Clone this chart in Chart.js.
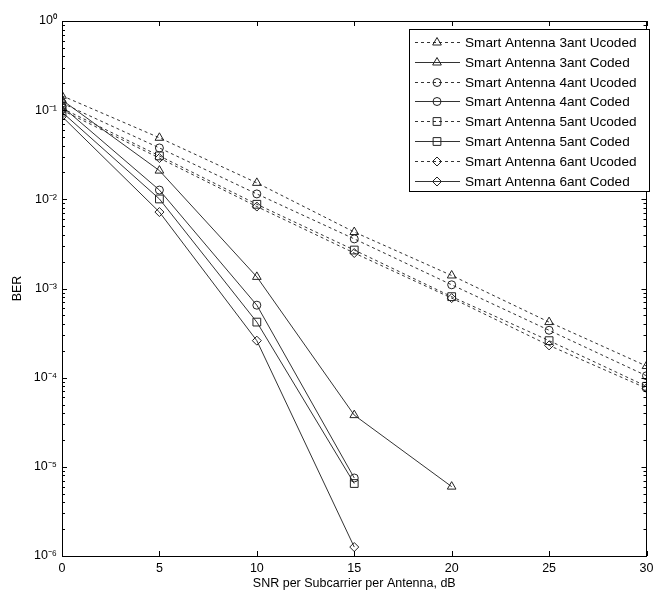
<!DOCTYPE html>
<html>
<head>
<meta charset="utf-8">
<script src="https://cdn.jsdelivr.net/npm/chart.js@4"></script>
<style>
  html, body { margin: 0; padding: 0; background: #fff; }
  #wrap { width: 653px; height: 592px; }
</style>
</head>
<body>
<div id="wrap"><canvas id="berChart"></canvas></div>
<script>
// SNR axis (dB)
const snr = [0, 5, 10, 15, 20, 25, 30];

// uncoded BER
const ber3Uncoded = [0.145, 0.049, 0.0153, 0.0043, 0.0014, 0.00042, 0.000135];
const ber4Uncoded = [0.12, 0.0377, 0.0115, 0.0036, 0.0011, 0.00034, 0.000105];
const ber5Uncoded = [0.105, 0.0307, 0.0088, 0.0027, 0.00081, 0.00026, 0.00008];
const ber6Uncoded = [0.1, 0.029, 0.0083, 0.0025, 0.00078, 0.00023, 0.000076];

// coded BER (null = not simulated)
const ber3Coded = [0.13, 0.021, 0.00135, 0.000038, 0.000006, null, null];
const ber4Coded = [0.11, 0.0127, 0.00065, 0.0000075, null, null, null];
const ber5Coded = [0.095, 0.0101, 0.00042, 0.0000065, null, null, null];
const ber6Coded = [0.085, 0.0072, 0.00026, 0.00000126, null, null, null];

const yTicks = [1, 0.1, 0.01, 0.001, 0.0001, 0.00001, 0.000001];
const yTickLabels = ['10\u2070', '10\u207B\u00B9', '10\u207B\u00B2', '10\u207B\u00B3', '10\u207B\u2074', '10\u207B\u2075', '10\u207B\u2076'];

const FONT = 'Liberation Sans, Arial, sans-serif';
const INK = '#222';

function pts(vals) {
  const out = [];
  vals.forEach((v, i) => { if (v !== null) out.push({ x: snr[i], y: v }); });
  return out;
}

function series(label, vals, style, radius, dashed) {
  return {
    label: label,
    data: pts(vals),
    borderColor: '#333',
    borderWidth: 1,
    borderDash: dashed ? [3, 3] : [],
    pointStyle: style,
    pointRadius: radius,
    pointBorderColor: INK,
    pointBackgroundColor: 'rgba(0,0,0,0)',
    pointBorderWidth: 1,
    backgroundColor: 'rgba(0,0,0,0)',
    fill: false,
    tension: 0
  };
}

const datasets = [
  series('Smart Antenna 3ant Ucoded', ber3Uncoded, 'triangle', 5, true),
  series('Smart Antenna 3ant Coded', ber3Coded, 'triangle', 5, false),
  series('Smart Antenna 4ant Ucoded', ber4Uncoded, 'circle', 4, true),
  series('Smart Antenna 4ant Coded', ber4Coded, 'circle', 4, false),
  series('Smart Antenna 5ant Ucoded', ber5Uncoded, 'rect', 5.5, true),
  series('Smart Antenna 5ant Coded', ber5Coded, 'rect', 5.5, false),
  series('Smart Antenna 6ant Ucoded', ber6Uncoded, 'rectRot', 4.5, true),
  series('Smart Antenna 6ant Coded', ber6Coded, 'rectRot', 4.5, false)
];

// box, inward ticks and the MATLAB style legend
const matlabFrame = {
  id: 'matlabFrame',
  afterDatasetsDraw(chart) {
    const ctx = chart.ctx;
    const a = chart.chartArea;
    const xs = chart.scales.x, ys = chart.scales.y;
    ctx.save();
    ctx.strokeStyle = '#000';
    ctx.lineWidth = 1;
    ctx.setLineDash([]);
    ctx.strokeRect(Math.round(a.left) + 0.5, Math.round(a.top) + 0.5,
      Math.round(a.right - a.left) - 1, Math.round(a.bottom - a.top));

    ctx.beginPath();
    snr.forEach(v => {
      const px = Math.round(xs.getPixelForValue(v)) + 0.5;
      ctx.moveTo(px, a.bottom); ctx.lineTo(px, a.bottom - 5);
      ctx.moveTo(px, a.top); ctx.lineTo(px, a.top + 5);
    });
    for (let e = -6; e <= 0; e++) {
      for (let m = 1; m <= 9; m++) {
        const v = m * Math.pow(10, e);
        if (v > 1 || (e === 0 && m > 1)) continue;
        const py = Math.round(ys.getPixelForValue(v)) + 0.5;
        const len = m === 1 ? 5 : 3;
        ctx.moveTo(a.left, py); ctx.lineTo(a.left + len, py);
        ctx.moveTo(a.right, py); ctx.lineTo(a.right - len, py);
      }
    }
    ctx.stroke();

    // legend
    const bx = 409, by = 29, bw = 240, bh = 162;
    ctx.fillStyle = '#fff';
    ctx.fillRect(bx, by, bw, bh);
    ctx.strokeStyle = '#000';
    ctx.strokeRect(bx + 0.5, by + 0.5, bw, bh);
    ctx.font = '13.6px ' + FONT;
    ctx.textBaseline = 'middle';
    ctx.textAlign = 'left';
    chart.data.datasets.forEach((ds, i) => {
      const y = Math.round(42 + i * 19.8) + 0.5;
      ctx.strokeStyle = ds.borderColor;
      ctx.setLineDash(ds.borderDash);
      ctx.beginPath();
      ctx.moveTo(415, y); ctx.lineTo(460, y);
      ctx.stroke();
      ctx.setLineDash([]);
      ctx.strokeStyle = ds.pointBorderColor;
      ctx.fillStyle = 'rgba(0,0,0,0)';
      Chart.helpers.drawPoint(ctx, { pointStyle: ds.pointStyle, radius: ds.pointRadius, borderWidth: 1, rotation: 0 }, 437, y);
      ctx.fillStyle = '#000';
      ctx.fillText(ds.label, 465, y + 1);
    });
    ctx.restore();
  }
};

new Chart(document.getElementById('berChart'), {
  type: 'line',
  data: { datasets: datasets },
  plugins: [matlabFrame],
  options: {
    responsive: true,
    maintainAspectRatio: false,
    animation: false,
    layout: { padding: { top: 21, right: 1, left: 0, bottom: 0 } },
    plugins: { legend: { display: false }, tooltip: { enabled: false } },
    scales: {
      x: {
        type: 'linear',
        min: 0,
        max: 30,
        afterFit: s => { s.height = 36; s.paddingRight = 0; s.paddingLeft = 0; },
        afterBuildTicks: s => { s.ticks = snr.map(v => ({ value: v })); },
        grid: { display: false, drawTicks: false },
        border: { display: false },
        ticks: { color: '#000', padding: 5, font: { family: FONT, size: 12.5 } },
        title: { display: true, text: 'SNR per Subcarrier per Antenna, dB', color: '#000',
          font: { family: FONT, size: 12.5 }, padding: { top: 0, bottom: 1 } }
      },
      y: {
        type: 'logarithmic',
        min: 1e-6,
        max: 1,
        afterFit: s => { s.width = 62; s.paddingTop = 0; s.paddingBottom = 0; },
        afterBuildTicks: s => { s.ticks = yTicks.map(v => ({ value: v })); },
        grid: { display: false, drawTicks: false },
        border: { display: false },
        ticks: {
          color: '#000', padding: 5, font: { family: FONT, size: 12.5 },
          callback: v => yTickLabels[yTicks.findIndex(t => Math.abs(t - v) / t < 1e-6)]
        },
        title: { display: true, text: 'BER', color: '#000',
          font: { family: FONT, size: 12.5 }, padding: { top: 10, bottom: 0 } }
      }
    }
  }
});
</script>
</body>
</html>
